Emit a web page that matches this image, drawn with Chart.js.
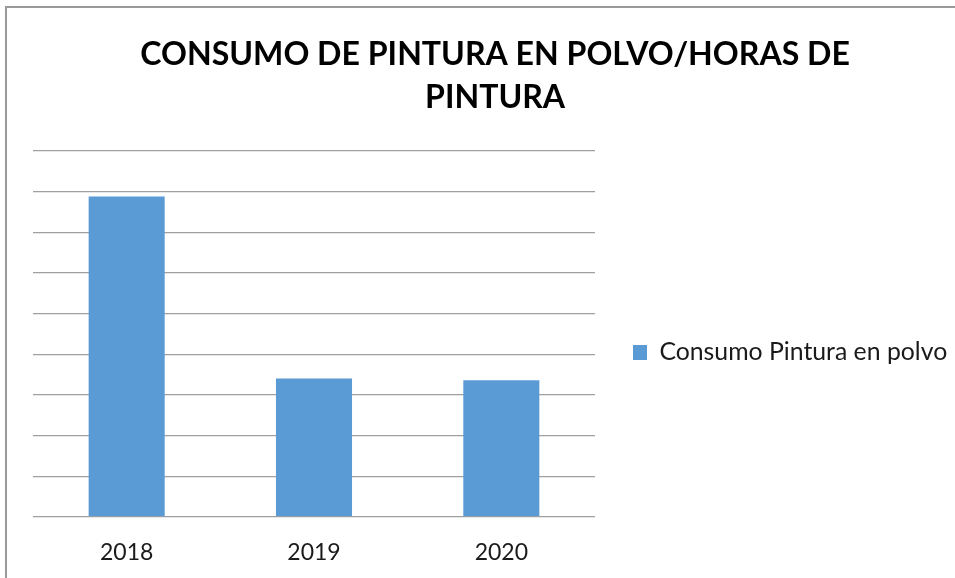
<!DOCTYPE html>
<html>
<head>
<meta charset="utf-8">
<script src="https://cdn.jsdelivr.net/npm/chart.js@4/dist/chart.umd.min.js"></script>
<style>
  html, body { margin: 0; padding: 0; background: #ffffff; overflow: hidden; }
  body { width: 955px; height: 578px; position: relative; }
  #frame { position: absolute; left: 5px; top: 6px; width: 2000px; height: 2000px;
           border-left: 2px solid #9a9a9a; border-top: 2px solid #9a9a9a; }
  #wrap { position: absolute; left: 7px; top: 8px; width: 962px; height: 582px; }
</style>
</head>
<body>
<div id="frame"></div>
<div id="wrap"><canvas id="c" width="962" height="582"></canvas></div>
<script>
const categories = ['2018', '2019', '2020'];
const seriesName = 'Consumo Pintura en polvo';
const seriesValues = [7.88, 3.40, 3.36];
const titleLines = ['CONSUMO DE PINTURA EN POLVO/HORAS DE', 'PINTURA'];
const yMin = 0, yMax = 9, yStep = 1;

const FONT = 'Lato';
function measure(text, font) {
  const ctx = document.createElement('canvas').getContext('2d');
  ctx.font = font;
  return ctx.measureText(text).width;
}
// size fonts to match reference text widths
const titleSize = Math.round(30 * 710 / measure(titleLines[0], 'bold 30px ' + FONT) * 10) / 10;
const legendSize = Math.round(23 * 288 / measure(seriesName, '23px ' + FONT) * 10) / 10;
const tickSize = 23;

const legendPad = 38;
const boxW = 14;
const textW = measure(seriesName, legendSize + 'px ' + FONT);
const legendWidth = legendPad + boxW + legendSize / 2 + textW + 10;
const areaRight = 588;
const padRight = Math.max(0, 962 - areaRight - legendWidth);

new Chart(document.getElementById('c'), {
  type: 'bar',
  data: {
    labels: categories,
    datasets: [{
      label: seriesName,
      data: seriesValues,
      backgroundColor: '#5b9bd5',
      borderWidth: 0,
      categoryPercentage: 1.0,
      barPercentage: 0.406
    }]
  },
  options: {
    responsive: false,
    animation: false,
    devicePixelRatio: 1,
    layout: { padding: { left: 26, right: padRight, top: 0, bottom: 2 } },
    plugins: {
      title: {
        display: true,
        text: titleLines,
        color: '#000000',
        font: { family: FONT, size: titleSize, weight: 'bold', lineHeight: '43.5px' },
        padding: { top: 24.5, bottom: 31.5 }
      },
      legend: {
        display: true,
        position: 'right',
        align: 'center',
        maxWidth: 600,
        title: {
          display: true,
          text: ' ',
          padding: 0,
          font: { family: FONT, size: 2, lineHeight: '109px' }
        },
        labels: {
          boxWidth: boxW,
          boxHeight: 15,
          padding: legendPad,
          color: '#1a1a1a',
          font: { family: FONT, size: legendSize }
        }
      },
      tooltip: { enabled: false }
    },
    scales: {
      x: {
        grid: { display: false, drawTicks: false },
        border: { display: false },
        ticks: {
          color: '#1a1a1a',
          padding: 24,
          font: { family: FONT, size: tickSize, lineHeight: '23.2px' }
        }
      },
      y: {
        min: yMin,
        max: yMax,
        grid: { color: '#a0a0a0', lineWidth: 1.3, drawTicks: false },
        border: { display: false },
        ticks: { display: false, stepSize: yStep }
      }
    }
  }
});
</script>
</body>
</html>
